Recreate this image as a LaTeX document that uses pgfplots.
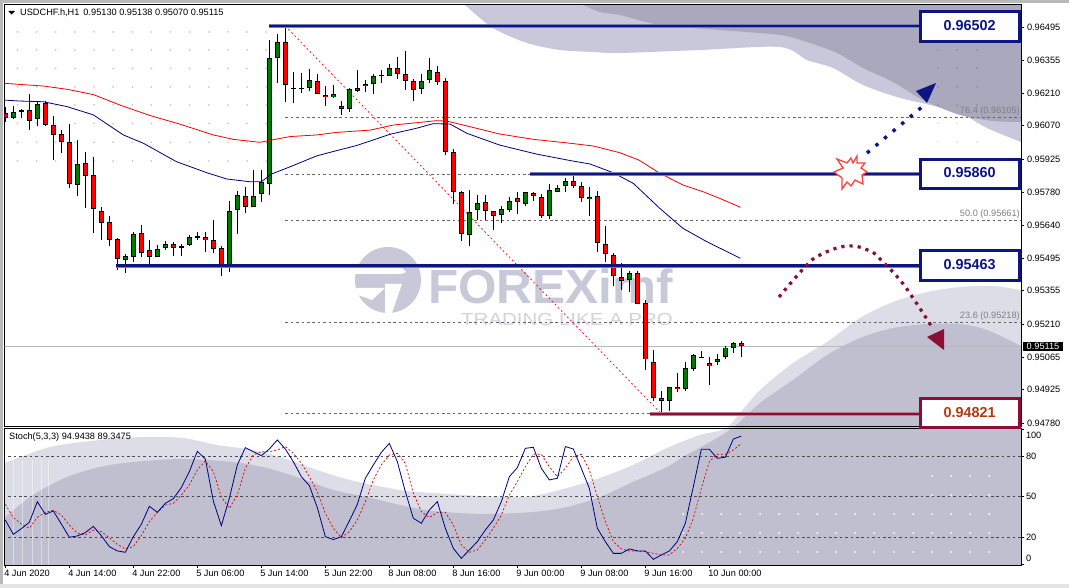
\documentclass[border=0pt]{standalone}
\usepackage{fontspec}
\setmainfont{Liberation Sans}
\usepackage{pgfplots}
\usepackage{pgfplotstable}
\pgfplotsset{compat=1.18}
\definecolor{navy}{HTML}{0C1580}
\definecolor{maroon}{HTML}{8B0F35}
\definecolor{mared}{HTML}{B03A10}
\definecolor{swA}{HTML}{C8C8DA}
\definecolor{swB}{HTML}{A9A8BC}
\definecolor{swC}{HTML}{DDDDE8}
\definecolor{swD}{HTML}{BFBFD0}
\definecolor{wm}{HTML}{C8C8D8}
\definecolor{cgreen}{HTML}{007A00}
\definecolor{mablue}{HTML}{00007F}

\pgfplotstableread{
i h l t b
1 0.96155 0.96098 0.96132 0.96105
2 0.96145 0.96106 0.96138 0.96131
4 0.96174 0.96069 0.96163 0.96098
9 0.96011 0.95767 0.95907 0.95816
15 0.95514 0.95433 0.95504 0.95489
16 0.95608 0.95481 0.95603 0.95504
19 0.95551 0.95499 0.95538 0.95504
20 0.95569 0.95530 0.95560 0.95543
22 0.95560 0.95507 0.95551 0.95543
23 0.95596 0.95551 0.95590 0.95556
28 0.95744 0.95437 0.95703 0.95465
29 0.95787 0.95602 0.95768 0.95707
31 0.95878 0.95719 0.95768 0.95720
32 0.95878 0.95741 0.95825 0.95773
33 0.96442 0.95770 0.96366 0.95820
34 0.96468 0.96257 0.96436 0.96366
37 0.96299 0.96213 0.96236 0.96232
38 0.96316 0.96222 0.96267 0.96236
41 0.96249 0.96192 0.96206 0.96193
43 0.96236 0.96131 0.96228 0.96141
44 0.96312 0.96218 0.96236 0.96223
45 0.96268 0.96216 0.96254 0.96244
46 0.96294 0.96209 0.96288 0.96254
47 0.96312 0.96257 0.96293 0.96287
48 0.96338 0.96287 0.96323 0.96288
52 0.96294 0.96205 0.96262 0.96228
53 0.96364 0.96254 0.96310 0.96267
58 0.95791 0.95550 0.95699 0.95599
59 0.95768 0.95661 0.95738 0.95707
62 0.95725 0.95650 0.95707 0.95681
63 0.95764 0.95699 0.95746 0.95707
65 0.95781 0.95725 0.95781 0.95729
68 0.95820 0.95668 0.95790 0.95681
69 0.95812 0.95781 0.95803 0.95785
70 0.95842 0.95785 0.95829 0.95807
73 0.95807 0.95681 0.95764 0.95755
78 0.95440 0.95349 0.95430 0.95400
83 0.94939 0.94835 0.94936 0.94875
85 0.95046 0.94921 0.95018 0.94927
86 0.95083 0.95008 0.95075 0.95014
87 0.95093 0.95063 0.95070 0.95066
89 0.95079 0.95031 0.95061 0.95048
90 0.95114 0.95057 0.95109 0.95066
91 0.95132 0.95086 0.95131 0.95109
}\upc

\pgfplotstableread{
i h l t b
0 0.96153 0.96088 0.96124 0.96106
3 0.96207 0.96054 0.96137 0.96093
5 0.96179 0.96072 0.96168 0.96072
6 0.96112 0.95921 0.96072 0.96028
7 0.96054 0.95953 0.96033 0.96001
8 0.96080 0.95801 0.96002 0.95820
10 0.95955 0.95715 0.95911 0.95851
11 0.95933 0.95606 0.95855 0.95707
12 0.95716 0.95575 0.95703 0.95651
13 0.95681 0.95550 0.95655 0.95577
14 0.95582 0.95446 0.95577 0.95491
17 0.95640 0.95501 0.95603 0.95517
18 0.95575 0.95472 0.95534 0.95504
21 0.95566 0.95507 0.95560 0.95543
24 0.95608 0.95573 0.95590 0.95582
25 0.95609 0.95524 0.95586 0.95573
26 0.95661 0.95517 0.95577 0.95538
27 0.95547 0.95417 0.95543 0.95465
30 0.95804 0.95693 0.95768 0.95720
35 0.96499 0.96174 0.96431 0.96245
36 0.96303 0.96170 0.96236 0.96232
39 0.96294 0.96205 0.96267 0.96210
40 0.96241 0.96157 0.96206 0.96197
42 0.96176 0.96118 0.96158 0.96141
49 0.96368 0.96274 0.96323 0.96297
50 0.96394 0.96226 0.96297 0.96267
51 0.96273 0.96179 0.96267 0.96228
54 0.96329 0.96248 0.96306 0.96262
55 0.96277 0.95944 0.96267 0.95959
56 0.95968 0.95729 0.95955 0.95781
57 0.95790 0.95572 0.95781 0.95599
60 0.95772 0.95661 0.95738 0.95699
61 0.95703 0.95619 0.95703 0.95681
64 0.95783 0.95686 0.95755 0.95738
66 0.95786 0.95745 0.95781 0.95768
67 0.95772 0.95668 0.95764 0.95681
71 0.95853 0.95803 0.95829 0.95807
72 0.95825 0.95741 0.95807 0.95755
74 0.95790 0.95524 0.95764 0.95560
75 0.95638 0.95481 0.95556 0.95512
76 0.95521 0.95378 0.95512 0.95417
77 0.95475 0.95358 0.95417 0.95400
79 0.95443 0.95297 0.95434 0.95300
80 0.95317 0.95011 0.95304 0.95057
81 0.95098 0.94878 0.95048 0.94892
82 0.94920 0.94823 0.94892 0.94879
84 0.94997 0.94917 0.94940 0.94931
88 0.95066 0.94946 0.95040 0.95027
92 0.95138 0.95070 0.95130 0.95115
}\dnc

\pgfplotstableread{
i k d
0 32.8 44.4
1 22.2 34.6
2 26.4 29.9
3 31.1 26.7
4 46.4 34.8
5 37.0 38.5
6 39.5 40.0
7 29.9 36.5
8 20.0 29.1
9 21.0 23.0
10 23.5 21.7
11 28.1 25.4
12 21.2 24.2
13 13.1 19.7
14 9.9 14.8
15 8.9 11.4
16 20.5 13.1
17 29.6 21.2
18 43.0 31.6
19 38.5 38.5
20 45.2 43.9
21 48.6 45.2
22 56.8 51.3
23 68.6 58.8
24 83.7 69.9
25 78.0 76.5
26 46.9 68.6
27 28.6 50.1
28 48.9 41.5
29 73.6 51.3
30 86.4 71.1
31 83.4 81.0
32 80.5 83.4
33 85.4 83.4
34 92.1 84.7
35 85.4 87.2
36 76.0 82.2
37 64.9 74.8
38 58.3 64.9
39 42.0 53.8
40 20.5 37.8
41 18.3 26.7
42 20.5 19.7
43 32.1 24.2
44 44.4 32.8
45 63.7 46.4
46 73.6 62.5
47 82.9 73.6
48 89.6 81.0
49 76.0 82.2
50 53.8 74.8
51 34.1 52.6
52 30.4 39.0
53 40.2 34.6
54 46.4 38.5
55 26.7 38.5
56 11.8 29.1
57 4.4 14.3
58 10.6 8.9
59 16.8 10.6
60 25.4 18.0
61 32.8 26.7
62 46.4 36.5
63 64.9 51.3
64 71.6 61.2
65 85.9 72.3
66 86.7 81.5
67 71.1 81.5
68 62.5 72.3
69 63.7 64.9
70 87.2 71.1
71 85.4 79.7
72 71.1 81.5
73 56.3 69.9
74 26.7 50.1
75 16.8 31.6
76 8.1 16.8
77 8.1 11.4
78 11.4 9.9
79 9.9 9.9
80 9.9 9.4
81 3.7 8.1
82 6.9 6.9
83 9.9 6.9
84 16.8 11.8
85 30.4 19.3
86 57.5 34.1
87 85.2 56.3
88 85.2 76.0
89 78.5 81.5
90 79.3 81.5
91 92.8 84.7
92 94.94 89.35
}\stoch

\newcommand\candles[2]{%
  \addplot[draw=none,mark=none,error bars/.cd,y dir=both,y explicit,error mark=none,error bar style={line width=1pt,draw=black,solid}]
    table[x=i,y expr={(\thisrow{h}+\thisrow{l})/2},y error expr={(\thisrow{h}-\thisrow{l})/2}]{#1};
  \addplot[draw=none,mark=none,error bars/.cd,y dir=both,y explicit,error mark=none,error bar style={line width=5pt,draw=black,solid}]
    table[x=i,y expr={(\thisrow{t}+\thisrow{b})/2},y error expr={(\thisrow{t}-\thisrow{b})/2}]{#1};
  \addplot[draw=none,mark=none,error bars/.cd,y dir=both,y explicit,error mark=none,error bar style={line width=3pt,draw=#2,solid}]
    table[x=i,y expr={(\thisrow{t}+\thisrow{b})/2},y error expr={max((\thisrow{t}-\thisrow{b})/2-0.000043,0)}]{#1};
}
\newcommand{\hl}[4]{%
  \addplot[#1!55!white,line width=3.6pt,forget plot] coordinates {(#2,#4) (#3,#4)};
  \addplot[#1,line width=2.6pt,forget plot] coordinates {(#2,#4) (#3,#4)};
}

\begin{document}
\begin{tikzpicture}[x=1pt,y=-1pt]
\useasboundingbox (0,0) rectangle (1069,588);
\fill[white] (0,0) rectangle (1069,588);
\fill[gray!55] (0,0) rectangle (1069,3);
\fill[gray!55] (0,0) rectangle (3,588);
\fill[gray!20] (0,584) rectangle (1069,588);

% background swooshes
\begin{scope}
\clip (4.5,4.3) rectangle (1021.3,565);
\fill[swC] plot[smooth,tension=0.5] coordinates {(5,463) (50,447) (100,440) (143,437) (183,438) (217,445) (253,450) (283,458) (317,470) (350,480) (400,490) (433,493) (500,497) (533,496) (567,488) (600,478) (633,465) (667,448) (700,435) (725,429) (740,413) (760,390) (793,363) (827,342) (860,318) (893,302) (927,292) (960,287) (993,286) (1021,290)} -- (1021.3,565) -- (4.5,565) -- cycle;
\fill[swD] plot[smooth,tension=0.5] coordinates {(5,517) (33,495) (67,477) (100,467) (133,462) (183,459) (233,462) (267,468) (300,478) (333,490) (367,497) (400,505) (433,511) (483,514) (533,512) (567,507) (600,497) (633,482) (667,467) (683,457) (717,438) (735,426) (760,403) (793,380) (827,355) (860,338) (893,328) (927,324) (960,324) (987,330) (1021,346)} -- (1021.3,565) -- (4.5,565) -- cycle;
\foreach \x in {13,22,32,41,48} \draw[white,opacity=.45,line width=.8pt] (\x,460) -- (\x,565);
\fill[swA] plot[smooth,tension=0.5] coordinates {(465,5) (493,28) (527,43) (560,50) (593,52) (620,53) (700,50) (780,47) (807,60) (833,68) (863,85) (897,97) (930,105) (960,113) (987,128) (1021,142)} -- (1021.3,4) -- cycle;
\fill[swB] plot[smooth,tension=0.5] coordinates {(583,5) (600,12) (620,15) (660,25) (720,30) (780,35) (807,42) (837,53) (863,68) (893,82) (923,100) (960,115) (993,121) (1021,122)} -- (1021.3,4) -- cycle;
% dots
\foreach \x in {17.5,36.6,55.7,74.9,94,113.1,132.3,151.4,170.5,189.7,208.8,228,247.1,266.2}
  \foreach \y in {32,50,68.5,87,105,123.5,142.3,161} \fill[wm] (\x,\y) circle (1pt);
\foreach \x in {938,957,977}
  \foreach \y in {50,68,87,105} \fill[gray!75!swB] (\x,\y) circle (.9pt);
\foreach \x in {938,957,977}
  \foreach \y in {123,142} \fill[gray!30] (\x,\y) circle (.9pt);
\foreach \x in {683,702,721,740,760,779,798,817,836,855,874,894,913,932,951,970,989}
  \foreach \y in {514,533,552} \fill[white] (\x,\y) circle (1pt);
\foreach \x in {932,951,970,989}
  \foreach \y in {476,495} \fill[white] (\x,\y) circle (1pt);
\end{scope}

% watermark
\fill[wm] (388,280) circle (33);
\fill[white] (352,266) -- (400,266) -- (406,272) -- (402,274) -- (352,274) -- cycle;
\fill[white] (385,284) -- (402,284) -- (392,313) -- (385,313) -- cycle;
\fill[white] (356,288) -- (385,288) -- (372,300) -- (358,295) -- cycle;
\node[anchor=west,inner sep=0,text=wm,font=\fontsize{48}{48}\selectfont\bfseries,xscale=1.03] at (428,286) {FOREXimf};
\node[anchor=west,inner sep=0,text=wm!80!white,font=\fontsize{17.5}{18}\selectfont,xscale=1.17] at (461,319) {TRADING LIKE A PRO};

% main chart
\begin{axis}[
  at={(4.5pt,-426pt)},anchor=south west,scale only axis,
  width=1016.8pt,height=421.7pt,
  xmin=-0.104,xmax=126.996,ymin=0.947682,ymax=0.965964,
  xtick=\empty,
  scaled y ticks=false,
  ytick={0.96495,0.96355,0.96210,0.96070,0.95925,0.95780,0.95640,0.95495,0.95355,0.95210,0.95065,0.94925,0.94780},
  yticklabels={0.96495,0.96355,0.96210,0.96070,0.95925,0.95780,0.95640,0.95495,0.95355,0.95210,0.95065,0.94925,0.94780},
  ytick pos=right,yticklabel pos=right,tick align=outside,
  major tick length=3pt,
  tick style={black,line width=.7pt},
  axis line style={black,line width=1pt},
  yticklabel style={font=\fontsize{9.2}{11}\selectfont,anchor=west,inner sep=0,xshift=2.5pt},
]
\addplot[gray!80!black,line width=.7pt,dash pattern=on 2.6pt off 2.8pt] coordinates {(35,0.96105) (127,0.96105)};
\addplot[gray!80!black,line width=.7pt,dash pattern=on 2.6pt off 2.8pt] coordinates {(35,0.95860) (127,0.95860)};
\addplot[gray!80!black,line width=.7pt,dash pattern=on 2.6pt off 2.8pt] coordinates {(35,0.95661) (127,0.95661)};
\addplot[gray!80!black,line width=.7pt,dash pattern=on 2.6pt off 2.8pt] coordinates {(35,0.95218) (127,0.95218)};
\addplot[gray!80!black,line width=.7pt,dash pattern=on 2.6pt off 2.8pt] coordinates {(35,0.94821) (82,0.94821)};
\addplot[gray!55,line width=.8pt] coordinates {(-1,0.95115) (127,0.95115)};
\addplot[red,line width=.7pt,dash pattern=on 1.8pt off 2.6pt] coordinates {(35,0.96502) (82,0.94821)};
\candles{\upc}{cgreen}
\candles{\dnc}{red}
\addplot[red,line width=.8pt] coordinates {(-0.1,0.96254) (1.8,0.96249) (4.75,0.96242) (7.7,0.96228) (11,0.96205) (14.3,0.96160) (18.1,0.96114) (21.8,0.96077) (26,0.96030) (28.5,0.96011) (31.8,0.95998) (33.3,0.96008) (35.6,0.96023) (38.9,0.96030) (41.4,0.96041) (45.6,0.96051) (48.5,0.96073) (51.4,0.96083) (53.9,0.96092) (55.2,0.96090) (57.7,0.96069) (61.8,0.96034) (66,0.96011) (70.6,0.95994) (73.5,0.95982) (76.8,0.95953) (79.2,0.95921) (81.8,0.95864) (84.7,0.95813) (87.2,0.95784) (89.3,0.95755) (91.9,0.95716)};
\addplot[mablue,line width=.8pt] coordinates {(-0.1,0.96181) (1.8,0.96177) (4.75,0.96174) (7.7,0.96153) (11,0.96117) (13.5,0.96059) (14.75,0.96030) (17.25,0.95994) (21.4,0.95914) (25.2,0.95866) (27.7,0.95839) (30.6,0.95827) (32,0.95827) (33.3,0.95861) (35.6,0.95892) (38.9,0.95939) (41.4,0.95962) (43.9,0.95984) (48.1,0.96033) (51.4,0.96059) (53.5,0.96079) (55.6,0.96077) (57.7,0.96037) (61.8,0.95986) (66.4,0.95947) (70.6,0.95919) (73.1,0.95904) (76,0.95866) (78.5,0.95820) (81.8,0.95712) (84.7,0.95625) (87.7,0.95567) (91.9,0.95495)};
\hl{navy}{32.96}{115}{0.96502}
\hl{navy}{65.6}{115}{0.95860}
\hl{navy}{13.8}{115}{0.95463}
\hl{maroon}{80.6}{115}{0.94821}
\end{axis}

% stochastic panel
\begin{axis}[
  at={(4.5pt,-565pt)},anchor=south west,scale only axis,
  width=1016.8pt,height=137pt,
  xmin=-0.104,xmax=126.996,ymin=-0.52,ymax=100.96,
  xtick={0,8,...,88},
  xticklabels={4 Jun 2020,4 Jun 14:00,4 Jun 22:00,5 Jun 06:00,5 Jun 14:00,5 Jun 22:00,8 Jun 08:00,8 Jun 16:00,9 Jun 00:00,9 Jun 08:00,9 Jun 16:00,10 Jun 00:00},
  ytick={0,20,50,80,100},
  yticklabels={\smash{\raisebox{3pt}{0}},20,50,80,\smash{\raisebox{-9.5pt}{100}}},
  ytick pos=right,yticklabel pos=right,xtick pos=bottom,xticklabel pos=bottom,tick align=outside,
  major tick length=3pt,
  tick style={black,line width=.7pt},
  axis line style={black,line width=1pt},
  yticklabel style={font=\fontsize{9.2}{11}\selectfont,anchor=west,inner sep=0,xshift=1.5pt},
  xticklabel style={font=\fontsize{9.2}{11}\selectfont,anchor=north west,inner sep=0,xshift=-1.2pt,yshift=-1.5pt},
]
\addplot[black!70,line width=.7pt,dash pattern=on 2.6pt off 2.8pt] coordinates {(-1,80) (127,80)};
\addplot[black!70,line width=.7pt,dash pattern=on 2.6pt off 2.8pt] coordinates {(-1,50) (127,50)};
\addplot[black!70,line width=.7pt,dash pattern=on 2.6pt off 2.8pt] coordinates {(-1,20) (127,20)};
\addplot[red!85!black,line width=.7pt,dash pattern=on 2pt off 2pt] table[x=i,y=d]{\stoch};
\addplot[mablue,line width=.8pt] table[x=i,y=k]{\stoch};
\end{axis}

% header texts
\fill[black] (8.3,11) -- (15,11) -- (11.6,14.6) -- cycle;
\node[anchor=west,inner sep=0,font=\fontsize{9.2}{11}\selectfont] at (20,12.7) {USDCHF.h,H1\hspace{4pt}0.95130 0.95138 0.95070 0.95115};
\node[anchor=west,inner sep=0,font=\fontsize{9.2}{11}\selectfont] at (9,437.5) {Stoch(5,3,3) 94.9438 89.3475};

% fibonacci labels
\node[anchor=east,inner sep=0,text=gray,font=\fontsize{9.2}{11}\selectfont] at (1020,111.5) {76.4 (0.96105)};
\node[anchor=east,inner sep=0,text=gray,font=\fontsize{9.2}{11}\selectfont] at (1020,214.5) {50.0 (0.95661)};
\node[anchor=east,inner sep=0,text=gray,font=\fontsize{9.2}{11}\selectfont] at (1020,316.5) {23.6 (0.95218)};

% price tag
\fill[black] (1023,341.7) rectangle (1063,351.3);
\node[inner sep=0,text=white,font=\fontsize{9.2}{11}\selectfont] at (1043,346.5) {0.95115};

% boxes
\draw[navy,line width=3pt,fill=white] (920.5,11.5) rectangle (1019.5,41.5);
\node[text=navy,inner sep=0,font=\fontsize{14.4}{16}\selectfont\bfseries] at (969.7,26) {0.96502};
\draw[navy,line width=3pt,fill=white] (920.5,159.5) rectangle (1019.5,188.5);
\node[text=navy,inner sep=0,font=\fontsize{14.4}{16}\selectfont\bfseries] at (969.7,173) {0.95860};
\draw[navy,line width=3pt,fill=white] (920.5,250.5) rectangle (1019.5,280.5);
\node[text=navy,inner sep=0,font=\fontsize{14.4}{16}\selectfont\bfseries] at (969.7,265) {0.95463};
\draw[maroon,line width=3pt,fill=white] (920.5,398.5) rectangle (1019.5,427.5);
\node[text=mared,inner sep=0,font=\fontsize{14.4}{16}\selectfont\bfseries] at (969.7,412.5) {0.94821};

% burst
\draw[red!75!white,line width=1.3pt,fill=white] (834,172) -- (843,168) -- (837,159) -- (847,163) -- (851,158) -- (853,163) -- (857,156) -- (857,163) -- (865,163) -- (861,168) -- (867,172) -- (862,175) -- (863,184) -- (855,180) -- (851,186) -- (847,182) -- (842,189) -- (842,178) -- cycle;

% navy arrow
\draw[navy,line width=3.4pt,dash pattern=on 3.4pt off 7.8pt] (867,153) -- (922,107);
\fill[navy] (916,91) -- (936,83) -- (927,103) -- cycle;

% maroon arrow
\draw[maroon,line width=3.2pt,dash pattern=on 3.2pt off 5pt] plot[smooth,tension=0.7] coordinates {(779,297) (805,267) (820,255) (847,246) (870,251) (883,262) (900,280) (913,298) (932,327)};
\fill[maroon] (927,337) -- (944,329) -- (944,350) -- cycle;
\end{tikzpicture}
\end{document}
